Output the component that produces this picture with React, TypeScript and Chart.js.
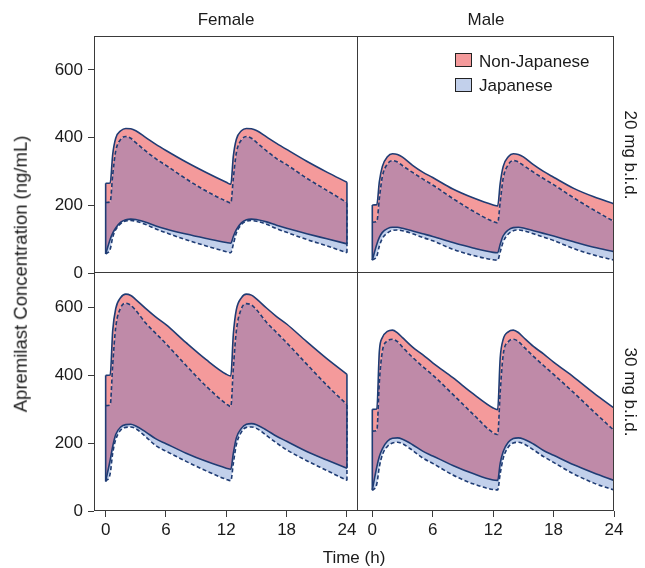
import React, { useEffect, useRef } from "react";
import { Chart, registerables } from "chart.js";

Chart.register(...registerables);

const FONT = '"Liberation Sans", Arial, Helvetica, sans-serif';
Chart.defaults.font.family = FONT;

// ---------- data ----------
const timeH = [0, 0.45, 0.7, 1, 1.5, 2, 2.5, 3, 4, 5, 6, 8, 10, 12, 12.45, 12.7, 13, 13.5, 14, 14.5, 15, 16, 17, 18, 20, 22, 24];
const timeTicks = [0, 6, 12, 18, 24];
const concTicks = [0, 200, 400, 600];
const sexLabels = ["Female", "Male"];
const doseLabels = ["20 mg b.i.d.", "30 mg b.i.d."];
const groupLabels = ["Non-Japanese", "Japanese"];

// Female, 20 mg b.i.d.
const f20NjUp = [265, 266, 350, 398, 420, 427, 426, 420, 400, 380, 362, 328, 297, 268, 262, 345, 395, 420, 427, 426, 421, 402, 383, 365, 330, 298, 268];
const f20JpUp = [208, 210, 290, 360, 395, 403, 398, 385, 360, 337, 318, 278, 242, 212, 207, 280, 355, 393, 403, 398, 386, 361, 338, 320, 280, 244, 208];
const f20NjLo = [56, 100, 118, 133, 150, 157, 159, 158, 150, 139, 130, 115, 102, 90, 88, 108, 128, 148, 157, 159, 158, 151, 141, 132, 116, 101, 86];
const f20JpLo = [56, 70, 105, 128, 146, 154, 155, 153, 143, 130, 119, 98, 80, 63, 60, 85, 118, 143, 153, 155, 153, 144, 131, 120, 99, 80, 60];

// Male, 20 mg b.i.d.
const m20NjUp = [201, 202, 270, 315, 343, 352, 350, 342, 318, 298, 282, 248, 222, 201, 198, 265, 315, 343, 352, 350, 343, 320, 300, 283, 250, 225, 204];
const m20JpUp = [150, 152, 220, 285, 322, 332, 328, 317, 297, 278, 260, 220, 183, 152, 148, 210, 280, 320, 332, 328, 318, 298, 279, 261, 222, 186, 152];
const m20NjLo = [38, 85, 105, 120, 131, 135, 135, 132, 124, 116, 108, 90, 74, 61, 60, 85, 110, 127, 134, 135, 133, 125, 117, 109, 92, 76, 63];
const m20JpLo = [38, 50, 80, 102, 118, 126, 127, 125, 116, 105, 95, 70, 52, 39, 38, 62, 92, 115, 125, 127, 125, 116, 106, 96, 72, 53, 38];

// Female, 30 mg b.i.d.
const f30NjUp = [399, 400, 530, 595, 628, 638, 634, 622, 595, 570, 548, 495, 445, 402, 397, 520, 592, 627, 638, 635, 624, 597, 572, 550, 498, 448, 402];
const f30JpUp = [310, 312, 430, 540, 598, 611, 605, 590, 552, 522, 492, 428, 367, 315, 307, 420, 530, 595, 610, 606, 592, 555, 525, 495, 432, 370, 313];
const f30NjLo = [87, 150, 190, 225, 247, 254, 255, 250, 232, 212, 198, 170, 146, 126, 123, 170, 215, 243, 255, 257, 254, 238, 220, 205, 175, 150, 126];
const f30JpLo = [87, 110, 170, 210, 238, 246, 247, 242, 218, 192, 176, 146, 118, 93, 89, 140, 195, 232, 246, 247, 243, 222, 200, 180, 148, 119, 90];

// Male, 30 mg b.i.d.
const m30NjUp = [299, 300, 470, 510, 528, 532, 524, 510, 482, 460, 436, 392, 345, 303, 298, 450, 505, 527, 532, 525, 511, 484, 462, 438, 394, 347, 303];
const m30JpUp = [235, 237, 380, 470, 500, 505, 498, 482, 452, 425, 400, 343, 285, 230, 225, 350, 460, 498, 505, 499, 484, 455, 428, 402, 348, 292, 237];
const m30NjLo = [62, 130, 160, 183, 205, 214, 215, 211, 195, 176, 162, 134, 110, 91, 90, 140, 175, 202, 213, 215, 212, 197, 178, 164, 136, 112, 90];
const m30JpLo = [60, 80, 130, 165, 190, 200, 202, 198, 178, 156, 140, 106, 80, 63, 62, 110, 155, 188, 200, 202, 198, 180, 160, 143, 109, 82, 62];

// ---------- style ----------
const RED = "#F49A9B";
const MAUVE = "#BF8AA8";
const BLUE = "#C2D0EB";
const NAVY = "#1F3C74";
const AXIS = "#3a3a3a";
const TEXT = "#1a1a1a";
const DASH = [4, 2.5];
const LINE_W = 1.6;
const W = 645;
const H = 568;
const Y_AXIS_W = 64;
const X_AXIS_H = 30;

const panels = [
  { nju: f20NjUp, jpu: f20JpUp, njl: f20NjLo, jpl: f20JpLo, xMin: -1.16, xMax: 25.1, left: 94, right: 358, top: 36, bottom: 273, showY: true, showX: false, sides: "tlrb" },
  { nju: m20NjUp, jpu: m20JpUp, njl: m20NjLo, jpl: m20JpLo, xMin: -1.42, xMax: 24, left: 358, right: 614, top: 36, bottom: 273, showY: false, showX: false, sides: "trb" },
  { nju: f30NjUp, jpu: f30JpUp, njl: f30NjLo, jpl: f30JpLo, xMin: -1.16, xMax: 25.1, left: 94, right: 358, top: 273, bottom: 511, showY: true, showX: true, sides: "lrb" },
  { nju: m30NjUp, jpu: m30JpUp, njl: m30NjLo, jpl: m30JpLo, xMin: -1.42, xMax: 24, left: 358, right: 614, top: 273, bottom: 511, showY: false, showX: true, sides: "rb" },
];

const framePlugin = {
  id: "panelFrame",
  afterDatasetsDraw(chart: any, _args: any, opts: any) {
    const { left, right, top, bottom } = chart.chartArea;
    const ctx = chart.ctx;
    const s: string = opts.sides || "tlrb";
    const l = Math.round(left) + 0.5;
    const r = Math.round(right) - 0.5;
    const t = Math.round(top) + 0.5;
    const b = Math.round(bottom) - 0.5;
    ctx.save();
    ctx.strokeStyle = AXIS;
    ctx.lineWidth = 1;
    ctx.beginPath();
    if (s.includes("t")) { ctx.moveTo(left, t); ctx.lineTo(right, t); }
    if (s.includes("b")) { ctx.moveTo(left, b); ctx.lineTo(right, b); }
    if (s.includes("l")) { ctx.moveTo(l, top); ctx.lineTo(l, bottom); }
    if (s.includes("r")) { ctx.moveTo(r, top); ctx.lineTo(r, bottom); }
    ctx.stroke();
    ctx.restore();
  },
};

function makeChart(canvas: HTMLCanvasElement, p: any) {
  const pts = (ys: number[]) => timeH.map((t, i) => ({ x: t, y: ys[i] }));
  const last = timeH.length - 1;
  const edge = (lo: number[], hi: number[], i: number) => [
    { x: timeH[i], y: lo[i] },
    { x: timeH[i], y: hi[i] },
  ];
  const curve = {
    pointRadius: 0,
    borderColor: NAVY,
    borderWidth: LINE_W,
    cubicInterpolationMode: "monotone" as const,
  };
  const straight = { pointRadius: 0, borderColor: NAVY, borderWidth: LINE_W, tension: 0, fill: false };
  const tickFont = { size: 17, family: FONT };

  return new Chart(canvas, {
    type: "line",
    data: {
      datasets: [
        { ...curve, label: groupLabels[0] + " upper", data: pts(p.nju), fill: "+1", backgroundColor: RED },
        { ...curve, label: groupLabels[1] + " upper", data: pts(p.jpu), borderDash: DASH, fill: "+1", backgroundColor: MAUVE },
        { ...curve, label: groupLabels[0] + " lower", data: pts(p.njl), fill: "+1", backgroundColor: BLUE },
        { ...curve, label: groupLabels[1] + " lower", data: pts(p.jpl), borderDash: DASH, fill: false },
        { ...straight, label: "edge0", data: edge(p.njl, p.nju, 0) },
        { ...straight, label: "edge1", data: edge(p.njl, p.nju, last) },
        { ...straight, label: "edge2", data: edge(p.jpl, p.jpu, last), borderDash: DASH },
      ],
    },
    options: {
      responsive: false,
      animation: false,
      events: [],
      layout: {
        padding: {
          left: p.showY ? p.left - Y_AXIS_W : p.left,
          right: W - p.right,
          top: p.top,
          bottom: p.showX ? H - p.bottom - X_AXIS_H : H - p.bottom,
        },
      },
      plugins: {
        legend: { display: false },
        tooltip: { enabled: false },
        filler: { drawTime: "beforeDatasetsDraw" },
        panelFrame: { sides: p.sides },
      } as any,
      scales: {
        x: {
          type: "linear",
          min: p.xMin,
          max: p.xMax,
          display: p.showX,
          afterBuildTicks: (s: any) => { s.ticks = timeTicks.map((v) => ({ value: v })); },
          afterFit: (s: any) => {
            if (!p.showX) return;
            s.height = X_AXIS_H; s.paddingLeft = 0; s.paddingRight = 0;
          },
          grid: { drawOnChartArea: false, drawTicks: true, tickLength: 6, color: AXIS, lineWidth: 1 },
          border: { display: false },
          ticks: { font: tickFont, color: TEXT, padding: 3, maxRotation: 0, autoSkip: false },
        },
        y: {
          type: "linear",
          min: 0,
          max: 700,
          display: p.showY,
          afterBuildTicks: (s: any) => { s.ticks = concTicks.map((v) => ({ value: v })); },
          afterFit: (s: any) => {
            if (!p.showY) return;
            s.width = Y_AXIS_W; s.paddingTop = 0; s.paddingBottom = 0;
          },
          grid: { drawOnChartArea: false, drawTicks: true, tickLength: 6, color: AXIS, lineWidth: 1 },
          border: { display: false },
          ticks: { font: tickFont, color: TEXT, padding: 5 },
        },
      },
    },
    plugins: [framePlugin],
  } as any);
}

const textBase: React.CSSProperties = {
  position: "absolute",
  fontFamily: FONT,
  fontSize: 17,
  lineHeight: "17px",
  color: TEXT,
  whiteSpace: "nowrap",
};

function Label(props: { x: number; y: number; rot?: number; size?: number; children: React.ReactNode }) {
  const { x, y, rot = 0, size = 17 } = props;
  return (
    <div style={{ ...textBase, fontSize: size, lineHeight: `${size}px`, left: x, top: y, transform: `translate(-50%, -50%) rotate(${rot}deg)` }}>
      {props.children}
    </div>
  );
}

export default function App() {
  const r0 = useRef<HTMLCanvasElement>(null);
  const r1 = useRef<HTMLCanvasElement>(null);
  const r2 = useRef<HTMLCanvasElement>(null);
  const r3 = useRef<HTMLCanvasElement>(null);
  const refs = [r0, r1, r2, r3];

  useEffect(() => {
    const charts = panels.map((p, i) => makeChart(refs[i].current as HTMLCanvasElement, p));
    return () => charts.forEach((c) => c.destroy());
  }, []);

  return (
    <div style={{ position: "absolute", left: 0, top: 0, width: W, height: H, background: "#fff", overflow: "hidden" }}>
      {refs.map((r, i) => (
        <canvas key={i} ref={r} width={W} height={H} style={{ position: "absolute", left: 0, top: 0, width: W, height: H }} />
      ))}
      <Label x={226} y={19}>{sexLabels[0]}</Label>
      <Label x={486} y={19}>{sexLabels[1]}</Label>
      <Label x={630} y={155} rot={90}>{doseLabels[0]}</Label>
      <Label x={630} y={392} rot={90}>{doseLabels[1]}</Label>
      <Label x={21} y={274} rot={-90} size={18.5}>Apremilast Concentration (ng/mL)</Label>
      <Label x={354} y={557}>Time (h)</Label>
      {/* legend */}
      <div style={{ position: "absolute", left: 455, top: 53, width: 15, height: 12, background: RED, border: "1px solid #222" }} />
      <div style={{ position: "absolute", left: 455, top: 78, width: 15, height: 12, background: BLUE, border: "1px solid #222" }} />
      <div style={{ ...textBase, left: 479, top: 60.5, transform: "translateY(-50%)" }}>{groupLabels[0]}</div>
      <div style={{ ...textBase, left: 479, top: 84.5, transform: "translateY(-50%)" }}>{groupLabels[1]}</div>
    </div>
  );
}
